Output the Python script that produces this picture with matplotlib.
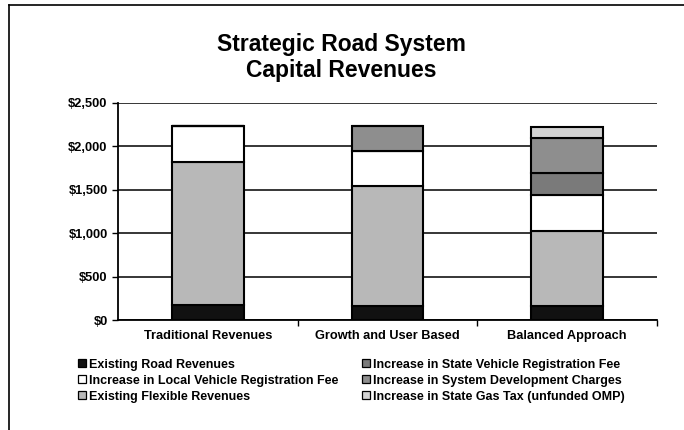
import matplotlib.pyplot as plt
import numpy as np
from matplotlib.patches import Patch

plt.rcParams['font.family'] = ['Liberation Sans', 'DejaVu Sans']

# scenarios and revenue sources ($ millions)
scenarios = ["Traditional Revenues", "Growth and User Based", "Balanced Approach"]
existing_road = [170, 160, 160]
existing_flex = [1655, 1380, 860]
local_vrf = [415, 405, 415]
state_vrf = [0, 0, 260]
sdc = [0, 285, 400]
gas_tax = [0, 0, 130]

yticks = [0, 500, 1000, 1500, 2000, 2500]
ytick_labels = ["$0", "$500", "$1,000", "$1,500", "$2,000", "$2,500"]

# stacking order bottom -> top
series = [
    ("Existing Road Revenues", existing_road, "#111111"),
    ("Existing Flexible Revenues", existing_flex, "#b8b8b8"),
    ("Increase in Local Vehicle Registration Fee", local_vrf, "#ffffff"),
    ("Increase in State Vehicle Registration Fee", state_vrf, "#7a7a7a"),
    ("Increase in System Development Charges", sdc, "#8e8e8e"),
    ("Increase in State Gas Tax (unfunded OMP)", gas_tax, "#d2d2d2"),
]

fig = plt.figure(figsize=(6.84, 4.30), dpi=100)
ax = fig.add_axes([0.1725, 0.2558, 0.788, 0.5047])

x = np.arange(len(scenarios))
bottom = np.zeros(len(scenarios))
for name, vals, col in series:
    vals = np.array(vals, dtype=float)
    ax.bar(x, vals, 0.4, bottom=bottom, color=col, edgecolor="black",
           linewidth=1.5, label=name, zorder=3)
    bottom += vals

ax.set_xlim(-0.5, 2.5)
ax.set_ylim(0, 2500)
ax.set_yticks(yticks)
ax.set_yticklabels(ytick_labels, fontsize=9.3, fontweight="bold")
ax.yaxis.grid(True, color="black", linewidth=1.1)
ax.set_axisbelow(True)
ax.tick_params(axis="y", length=4.5, width=1, pad=3)

ax.set_xticks(x)
ax.set_xticklabels(scenarios, fontsize=9.2, fontweight="bold")
ax.set_xticks([0.5, 1.5, 2.5], minor=True)
ax.tick_params(axis="x", which="major", length=0, pad=7)
ax.tick_params(axis="x", which="minor", length=4, width=1)

for s in ["top", "right"]:
    ax.spines[s].set_visible(False)
ax.spines["left"].set_linewidth(1.3)
ax.spines["bottom"].set_linewidth(1.3)

fig.text(0.499, 0.866, "Strategic Road System\nCapital Revenues", ha="center",
         va="center", fontsize=16.5, fontweight="bold", linespacing=1.2)

# legend, two columns placed separately
col1 = [0, 2, 1]
col2 = [3, 4, 5]
for idxs, x0 in [(col1, 78 / 684), (col2, 362 / 684)]:
    handles = [Patch(facecolor=series[i][2], edgecolor="black", linewidth=0.9,
                     label=series[i][0]) for i in idxs]
    fig.legend(handles=handles, loc="upper left", bbox_to_anchor=(x0, 0.166),
               ncol=1, frameon=False, handlelength=0.6, handleheight=0.6,
               handletextpad=0.25, labelspacing=0.32, borderpad=0,
               borderaxespad=0, prop={"weight": "bold", "size": 9})

# outer frame (top and left edges)
fig.add_artist(plt.Line2D([0.013, 1.0], [0.988, 0.988], color="black", lw=1.2,
                          transform=fig.transFigure))
fig.add_artist(plt.Line2D([0.013, 0.013], [0.0, 0.988], color="black", lw=1.2,
                          transform=fig.transFigure))

fig.savefig("out.png", dpi=100)
